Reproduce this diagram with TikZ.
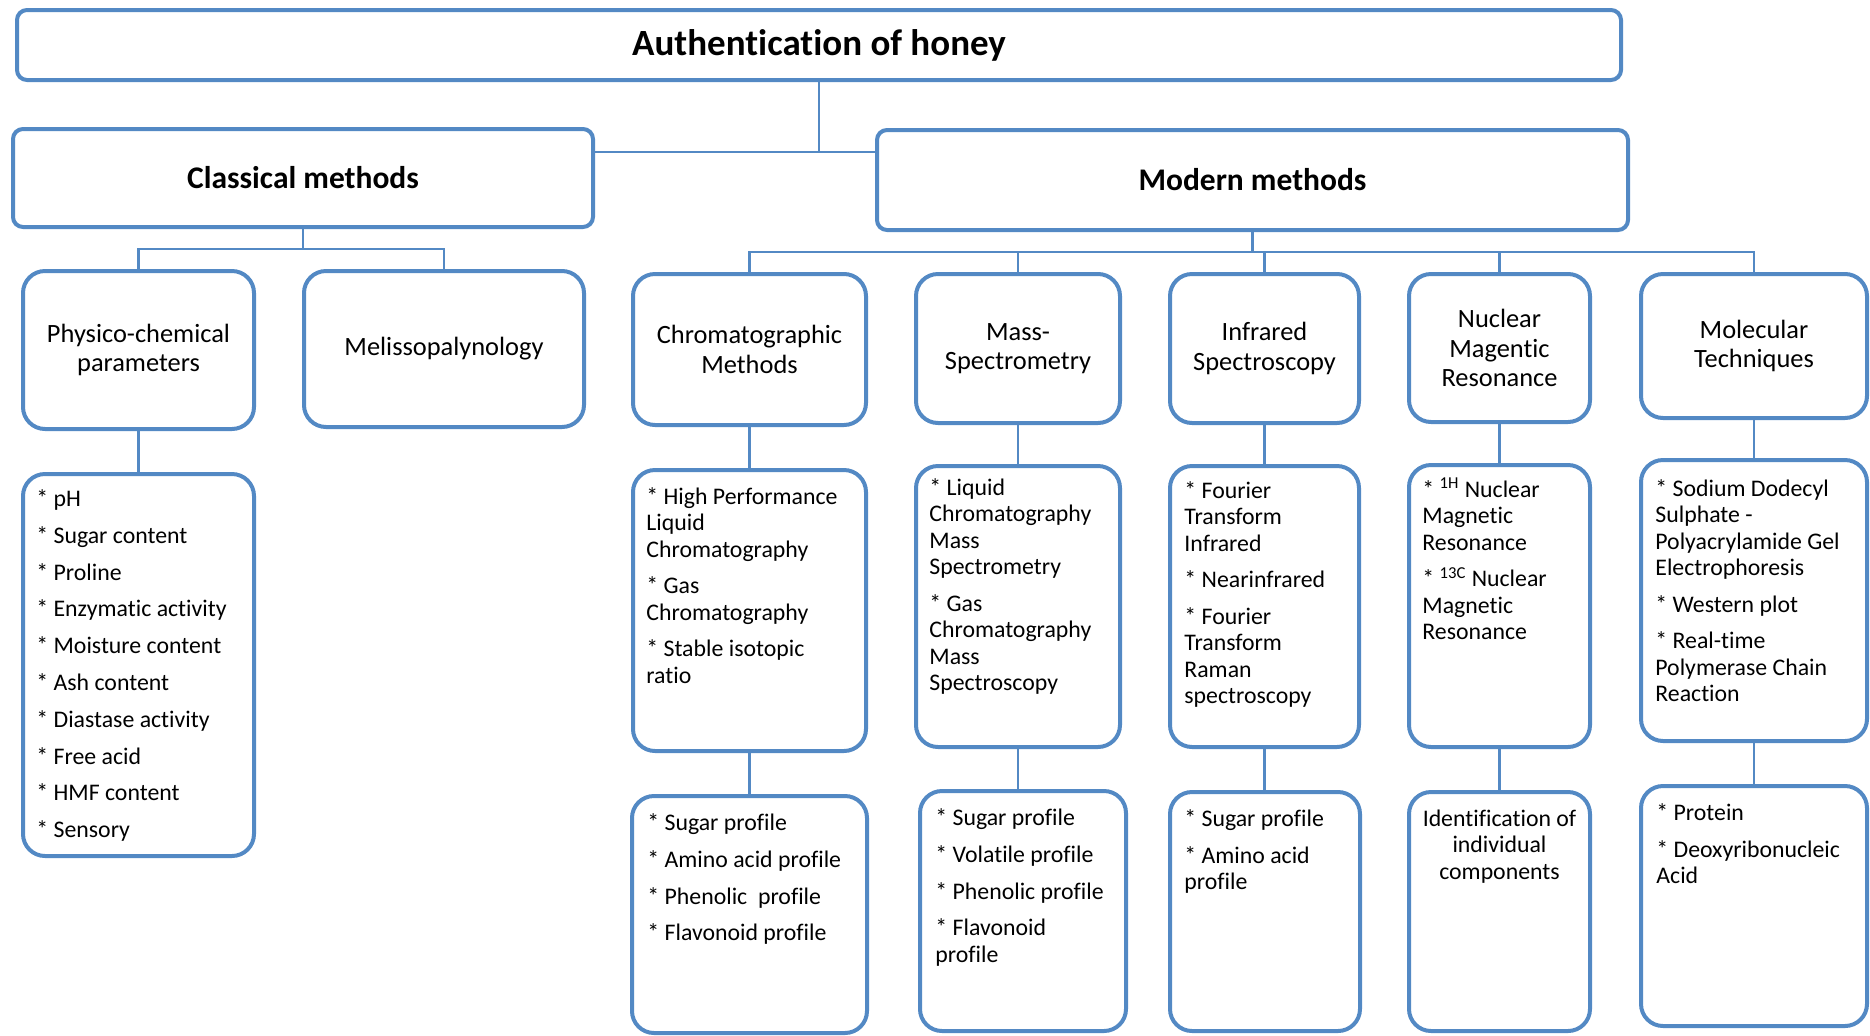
\documentclass[tikz,border=0pt]{standalone}
\usepackage{fontspec}
\setmainfont{Carlito}[Ligatures=NoCommon]
\usetikzlibrary{fit,calc}
\definecolor{boxblue}{RGB}{83,137,196}
% invisible rule that fixes the height of the first line of a list
\newcommand\lnstrut{\rule{0pt}{10pt}}

\begin{document}
\begin{tikzpicture}[x=0.5pt, y=-0.5pt,
  frame/.style={draw=boxblue, line width=2pt, fill=white, inner sep=0pt, outer sep=0pt},
  titlebox/.style={frame, rounded corners=5pt, font=\fontsize{18.5}{22}\selectfont\bfseries},
  headbox/.style={frame, rounded corners=5pt, font=\fontsize{15.75}{19}\selectfont\bfseries},
  catbox/.style={frame, rounded corners=11pt, align=center, font=\fontsize{13.2}{14.75}\selectfont},
  listbox/.style={frame, rounded corners=11pt},
  listtext/.style={anchor=north west, align=left, inner sep=0pt, font=\fontsize{11.9}{13.25}\selectfont},
  conn/.style={draw=boxblue, line width=1.25pt}]
\useasboundingbox (0,0) rectangle (1870,1035);

% top levels
\node[titlebox, minimum width=802pt, minimum height=35pt] (root) at (819,45) {Authentication of honey};
\node[headbox, minimum width=290pt, minimum height=49pt] (classical) at (303,178) {Classical methods};
\node[headbox, minimum width=375.5pt, minimum height=50pt] (modern) at (1252.5,180) {Modern methods};

% method families
\node[catbox, minimum width=115.5pt, minimum height=79pt] (physico) at (138.5,350) {Physico-chemical\\parameters};
\node[catbox, minimum width=140pt, minimum height=78pt] (meliss) at (444,349) {Melissopalynology};
\node[catbox, minimum width=116.5pt, minimum height=75.5pt] (chrom) at (749.5,349.5) {Chromatographic\\Methods};
\node[catbox, minimum width=102pt, minimum height=74.5pt] (mass) at (1018,348.5) {Mass-\\Spectrometry};
\node[catbox, minimum width=94.5pt, minimum height=74.5pt] (infra) at (1264.5,348.5) {Infrared\\Spectroscopy};
\node[catbox, minimum width=90.5pt, minimum height=74pt] (nmr) at (1499.5,348) {Nuclear\\Magentic\\Resonance};
\node[catbox, minimum width=113pt, minimum height=72pt] (molec) at (1754,346) {Molecular\\Techniques};

% technique lists
\node[listbox, fit={(23,474) (254,856)}] (physlist) {};
\node[listbox, fit={(633,470) (866,751)}] (chromlist) {};
\node[listbox, fit={(916,466) (1120,747)}] (masslist) {};
\node[listbox, fit={(1170,466) (1359,747)}] (infralist) {};
\node[listbox, fit={(1409,465) (1590,747)}] (nmrlist) {};
\node[listbox, fit={(1641,460) (1867,741)}] (moleclist) {};

% analysed targets
\node[listbox, fit={(632,796) (867,1033)}] (chromprof) {};
\node[listbox, fit={(920,791) (1126,1031)}] (massprof) {};
\node[listbox, fit={(1170,792) (1360,1031)}] (infraprof) {};
\node[listbox, fit={(1409,792) (1590,1031)}] (nmrprof) {};
\node[listbox, fit={(1641,786) (1867,1026)}] (molecprof) {};

% list texts
\node[listtext] (physlist-t) at ($(physlist.north west)+(13,12)$)
  {\lnstrut* pH\\[5.15pt]* Sugar content\\[5.15pt]* Proline\\[5.15pt]* Enzymatic activity\\[5.15pt]* Moisture content\\[5.15pt]* Ash content\\[5.15pt]* Diastase activity\\[5.15pt]* Free acid\\[5.15pt]* HMF content\\[5.15pt]* Sensory};
\node[listtext] (chromlist-t) at ($(chromlist.north west)+(13,14)$)
  {\lnstrut* High Performance\\Liquid\\Chromatography\\[4.9pt]* Gas\\Chromatography\\[4.9pt]* Stable isotopic\\ratio};
\node[listtext] (masslist-t) at ($(masslist.north west)+(13,9)$)
  {\lnstrut* Liquid\\Chromatography\\Mass\\Spectrometry\\[4.9pt]* Gas\\Chromatography\\Mass\\Spectroscopy};
\node[listtext] (infralist-t) at ($(infralist.north west)+(14,12)$)
  {\lnstrut* Fourier\\Transform\\Infrared\\[4.9pt]* Nearinfrared\\[4.9pt]* Fourier\\Transform\\Raman\\spectroscopy};
\node[listtext] (nmrlist-t) at ($(nmrlist.north west)+(13,12)$)
  {\lnstrut* \textsuperscript{1H} Nuclear\\Magnetic\\Resonance\\[4.9pt]* \textsuperscript{13C} Nuclear\\Magnetic\\Resonance};
\node[listtext] (moleclist-t) at ($(moleclist.north west)+(14,16)$)
  {\lnstrut* Sodium Dodecyl\\Sulphate -\\Polyacrylamide Gel\\Electrophoresis\\[4.9pt]* Western plot\\[4.9pt]* Real-time\\Polymerase Chain\\Reaction};

\node[listtext] (chromprof-t) at ($(chromprof.north west)+(15,14)$)
  {\lnstrut* Sugar profile\\[5.15pt]* Amino acid profile\\[5.15pt]* Phenolic\ \ profile\\[5.15pt]* Flavonoid profile};
\node[listtext] (massprof-t) at ($(massprof.north west)+(15,14)$)
  {\lnstrut* Sugar profile\\[5.15pt]* Volatile profile\\[5.15pt]* Phenolic profile\\[5.15pt]* Flavonoid\\profile};
\node[listtext] (infraprof-t) at ($(infraprof.north west)+(14,14)$)
  {\lnstrut* Sugar profile\\[5.15pt]* Amino acid\\profile};
\node[listtext, anchor=north, align=center] (nmrprof-t) at ($(nmrprof.north)+(0,14)$)
  {\lnstrut Identification of\\individual\\components};
\node[listtext] (molecprof-t) at ($(molecprof.north west)+(15,14)$)
  {\lnstrut* Protein\\[5.15pt]* Deoxyribonucleic\\Acid};

% connectors
\coordinate (hub) at (819,152);
\coordinate (cbus) at (303,249);
\coordinate (mbus) at (1253,252);

\draw[conn] (root.south -| hub) -- (hub);
\draw[conn] (hub -| classical.east) -- (hub -| modern.west);

\draw[conn] (classical.south) -- (classical.south |- cbus) -| (physico.north);
\draw[conn] (classical.south |- cbus) -| (meliss.north);
\draw[conn] (physico.south) -- (physico.south |- physlist.north);

\draw[conn] (modern.south) -- (modern.south |- mbus);
\foreach \child in {chrom, mass, infra, nmr, molec}
  \draw[conn] (modern.south |- mbus) -| (\child.north);

\foreach \parent/\child in {chrom/chromlist, mass/masslist, infra/infralist, nmr/nmrlist, molec/moleclist,
    chromlist/chromprof, masslist/massprof, infralist/infraprof, nmrlist/nmrprof, moleclist/molecprof}
  \draw[conn] (\parent.south) -- (\parent.south |- \child.north);
\end{tikzpicture}
\end{document}
